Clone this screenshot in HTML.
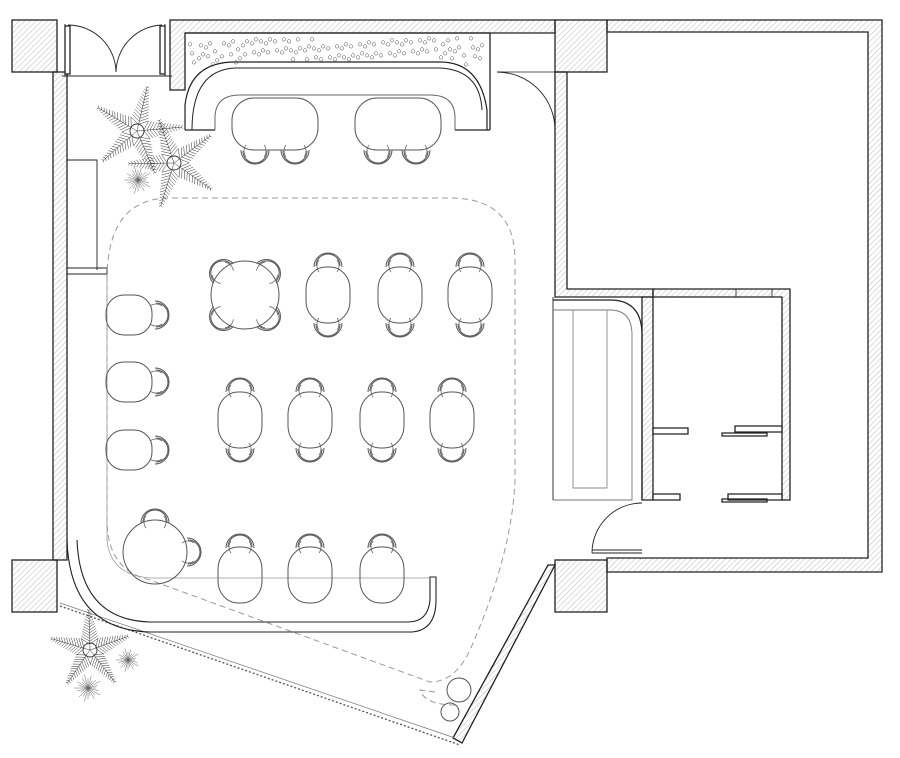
<!DOCTYPE html>
<html><head><meta charset="utf-8"><style>html,body{margin:0;padding:0;background:#fff}svg{display:block}</style></head>
<body>
<svg id="s" width="900" height="758" viewBox="0 0 900 758" xmlns="http://www.w3.org/2000/svg" fill="none" stroke="#222" stroke-width="1">
<defs>
<pattern id="h" width="4" height="4" patternUnits="userSpaceOnUse" patternTransform="rotate(45)"><line x1="0" y1="0" x2="0" y2="4" stroke="#bbb" stroke-width="1"/></pattern>
<g id="ch"><path d="M-12,4 A12,12 0 0 1 12,4" stroke="#555"/><path d="M-14,5 A14,14 0 0 1 14,5" stroke="#555"/><path d="M-9,10 A10,10 0 0 1 -9,-2 M9,10 A10,10 0 0 0 9,-2" stroke="#666" stroke-width="0.8"/></g>
<g id="tb"><rect x="-22" y="-28" width="44" height="56" rx="20" ry="22" stroke="#555"/></g>
</defs>
<g id="walls" stroke="#222" stroke-width="1.3">
<rect x="12" y="20" width="45" height="52" fill="url(#h)"/>
<rect x="555" y="20" width="52" height="52" fill="url(#h)"/>
<rect x="12" y="560" width="45" height="52" fill="url(#h)"/>
<rect x="555" y="560" width="52" height="52" fill="url(#h)"/>
<rect x="53" y="72" width="14" height="488" fill="url(#h)"/>
<path d="M65,24 v52 M165,24 v52 M62,76 h110" stroke-width="1"/>
<path d="M68,25 A48,48 0 0 1 116,72 M162,25 A48,48 0 0 0 116,72" stroke-width="0.9"/>
<rect x="65" y="26" width="5" height="48" fill="#fff"/><rect x="160" y="26" width="5" height="48" fill="#fff"/>
<path d="M170,20 H555 V33 H185 V90 H170 Z" fill="url(#h)"/>
<path d="M185,33 H490 V130" />
<path d="M185,130 V105 Q190,62 235,62 H440 Q480,62 487,110 V130" stroke-width="1.2"/>
<path d="M192,130 Q192,70 235,68 H440 Q480,70 482,110" stroke-width="1"/>
<path d="M185,130 H215 M455,130 H490" />
<path d="M607,20 H882 V572 H607 V558 H868 V32 H607 Z" fill="url(#h)"/>
<path d="M555,72 V297 H653 V289 H567 V72 Z" fill="url(#h)"/>
<path d="M555,72 V120 M497,72 H555" stroke-width="0.8"/>
<path d="M555,130 A58,58 0 0 0 497,72" stroke-width="0.9"/>
<path d="M553,297 V500" stroke-width="0.9"/>
<path d="M642,297 H653 V500 H642 Z" fill="url(#h)"/>
<path d="M653,289 H790 V500 H782 V297 H653 Z" fill="url(#h)"/>
<path d="M653,428 H688 V434 H653 Z M653,494 H680 V500 H653 Z M735,426 H782 V432 H735 Z M722,433 H767 V436 H722 Z M728,494 H782 V500 H728 Z M722,499 H767 V502 H722 Z" fill="#fff"/>
<path d="M736,289 V297 M772,289 V297" stroke-width="0.8"/>
<path d="M553,300 H610 Q642,300 642,335 V500" stroke-width="1.2"/>
<path d="M553,310 H610 Q632,310 632,335 V500 H553" stroke="#777" stroke-width="0.9"/>
<path d="M573,310 V488 H607 V310" stroke="#888" stroke-width="0.9"/>
<path d="M642,503 A50,50 0 0 0 592,553 M592,553 H642 M592,550 H642" stroke-width="0.9"/>
<path d="M555,565 L548,565 L453,738 L462,743 Z" fill="url(#h)"/>
<path d="M515,625 L488,675" stroke-width="0.8"/>
<path d="M60,606 L460,745" stroke="#555" stroke-dasharray="2,2"/>
<path d="M60,603 L455,738" stroke="#777" stroke-width="0.7"/>
<path d="M67,160 H97 V270 M67,268 H107 V274 H67" stroke-width="0.9"/>
<path d="M67,540 Q70,630 150,632 H412 Q436,630 436,600 V577 H430 V600 Q428,622 408,622 H150 Q80,620 77,540" stroke-width="1.1"/>
</g>
<path d="M107,280 Q107,198 170,198 H450 Q515,198 515,260 V480 Q512,555 470,650 Q455,682 430,682 L150,580 Q107,570 107,520 Z" stroke="#999" stroke-dasharray="6,4"/>
<path d="M107,280 V540 Q110,575 150,578 H430" stroke="#999" stroke-width="0.8"/>
<path d="M435,692 L420,690 Q425,705 455,705" stroke="#999" stroke-dasharray="6,4"/>
<circle cx="459" cy="690" r="12" stroke="#555"/><circle cx="450" cy="712" r="9" stroke="#555"/>
<path d="M215,130 V118 Q215,95 240,95 H430 Q455,95 455,118 V130" stroke="#666"/>
<rect x="232" y="98" width="86" height="52" rx="22" stroke="#555"/>
<rect x="355" y="98" width="86" height="52" rx="22" stroke="#555"/>
<g id="furn"></g>
<g id="plants" stroke="#333" stroke-width="0.5"></g>
<g id="stars" stroke="#555" stroke-width="0.5"></g>
</svg>
<script>
var NS="http://www.w3.org/2000/svg";
function el(p,t,a){var e=document.createElementNS(NS,t);for(var k in a)e.setAttribute(k,a[k]);p.appendChild(e);return e;}
var F=document.getElementById('furn');
function chair(x,y,r){el(F,'use',{href:'#ch',transform:'translate('+x+','+y+') rotate('+r+')'});}
function tbl(x,y){el(F,'use',{href:'#tb',transform:'translate('+x+','+y+')'});}
[255,295,378,416].forEach(function(x){chair(x,155,180);});
el(F,'circle',{cx:245,cy:295,r:34,stroke:'#555'});
chair(220,270,-45);chair(270,270,45);chair(220,320,-135);chair(270,320,135);
[328,400,470].forEach(function(x){tbl(x,295);chair(x,262,0);chair(x,328,180);});
[240,310,382,452].forEach(function(x){tbl(x,420);chair(x,387,0);chair(x,453,180);});
[315,382,450].forEach(function(y){el(F,'rect',{x:106,y:y-20,width:46,height:40,rx:18,stroke:'#555'});chair(160,y,90);});
el(F,'circle',{cx:155,cy:552,r:32,stroke:'#555'});chair(155,518,0);chair(192,552,90);
[240,310,382].forEach(function(x){tbl(x,575);chair(x,543,0);});
var P=document.getElementById('plants');
function palm(cx,cy,len,n,rot){
 el(P,'circle',{cx:cx,cy:cy,r:7,'stroke-width':0.9});
 for(var i=0;i<n;i++){var a=rot+i*2*Math.PI/n;var ex=cx+len*Math.cos(a),ey=cy+len*Math.sin(a);
  el(P,'line',{x1:cx,y1:cy,x2:ex,y2:ey});
  var d='';for(var t=0.15;t<1;t+=0.07){var px=cx+(ex-cx)*t,py=cy+(ey-cy)*t;var w=10*(1-t)+2;
   for(var s=-1;s<=1;s+=2){var b=a+s*1.0;d+='M'+px.toFixed(1)+','+py.toFixed(1)+'l'+(w*Math.cos(b)).toFixed(1)+','+(w*Math.sin(b)).toFixed(1);}}
  el(P,'path',{d:d});}
}
function bush(cx,cy,r){var d='';for(var i=0;i<24;i++){var a=i*0.262;var rr=r*(0.6+0.4*((i*7)%5)/4);d+='M'+cx+','+cy+'l'+(rr*Math.cos(a)).toFixed(1)+','+(rr*Math.sin(a)).toFixed(1);}el(P,'path',{d:d,stroke:'#666'});}
bush(138,180,14);bush(88,688,14);bush(128,660,12);
palm(137,131,45,5,-2.6);palm(174,163,45,5,-1.9);palm(90,650,40,5,-1.6);
var S=document.getElementById('stars');var d='';
for(var i=0;i<110;i++){var x=190+((i*53)%295),y=38+((i*29)%22)+ (i%3==0?((x>240&&x<440)?0:6):0);d+='M'+(x-2)+','+y+'l2,-2l2,2l-1,2h-2z';}
el(S,'path',{d:d});
</script>
</body></html>
